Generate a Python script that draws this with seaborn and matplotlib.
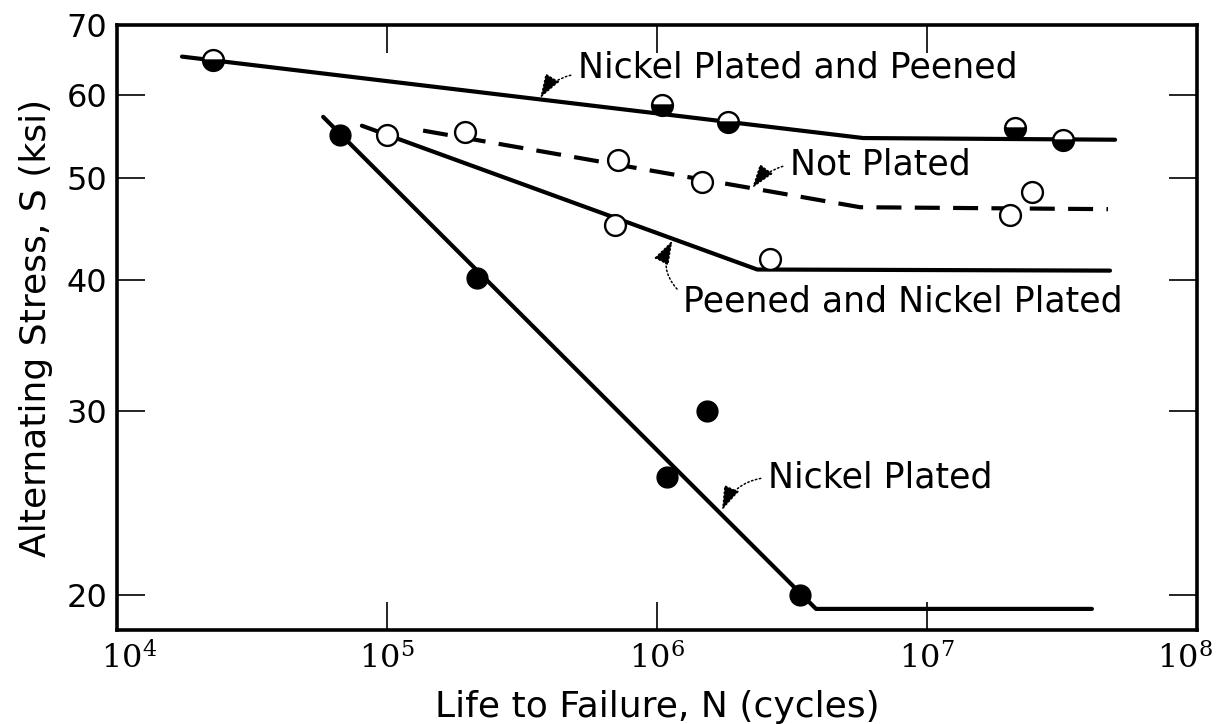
import numpy as np
import pandas as pd
import matplotlib
matplotlib.use("Agg")
import matplotlib.pyplot as plt
import matplotlib.transforms as mtransforms
import seaborn as sns

# ---- data ----
# Nickel Plated and Peened (half-filled markers)
npp_N = [2.27e4, 1.04e6, 1.83e6, 2.12e7, 3.19e7]
npp_S = [64.8, 58.7, 56.6, 55.8, 54.4]
npp_line_N = [1.74e4, 5.8e6, 4.97e7]
npp_line_S = [65.3, 54.6, 54.4]

# Not Plated (open circles, dashed)
np_N = [1.94e5, 7.17e5, 1.47e6, 2.03e7, 2.45e7]
np_S = [55.3, 52.0, 49.6, 46.1, 48.5]
np_line_N = [1.36e5, 5.65e6, 4.68e7]
np_line_S = [55.5, 46.9, 46.7]

# Peened and Nickel Plated (open circles, solid)
pnp_N = [1.0e5, 6.98e5, 2.62e6]
pnp_S = [55.0, 45.1, 41.9]
pnp_line_N = [8.07e4, 2.35e6, 4.76e7]
pnp_line_S = [56.1, 40.9, 40.8]

# Nickel Plated (filled circles)
ni_N = [6.70e4, 2.15e5, 1.09e6, 1.53e6, 3.39e6]
ni_S = [55.0, 40.1, 25.9, 30.0, 20.0]
ni_line_N = [5.8e4, 3.88e6, 4.08e7]
ni_line_S = [57.2, 19.4, 19.4]

x_ticks = [1e4, 1e5, 1e6, 1e7, 1e8]
x_ticklabels = [r"$10^{4}$", r"$10^{5}$", r"$10^{6}$", r"$10^{7}$", r"$10^{8}$"]
y_ticks = [20, 30, 40, 50, 60, 70]
y_ticklabels = ["20", "30", "40", "50", "60", "70"]

sns.set_style("ticks")
plt.rcParams["font.family"] = ["DejaVu Sans"]
plt.rcParams["mathtext.fontset"] = "dejavuserif"
plt.rcParams["text.color"] = "black"
plt.rcParams["axes.labelcolor"] = "black"

fig = plt.figure(figsize=(12.18, 7.24), dpi=100)
ax = fig.add_axes([0.0961, 0.1298, 0.8867, 0.8357])

lw = 3.0
# lines
for N, S, ls in [(npp_line_N, npp_line_S, "-"),
                 (np_line_N, np_line_S, (0, (6, 3.2))),
                 (pnp_line_N, pnp_line_S, "-"),
                 (ni_line_N, ni_line_S, "-")]:
    df = pd.DataFrame({"N": N, "S": S})
    sns.lineplot(data=df, x="N", y="S", ax=ax, color="black", lw=lw,
                 linestyle=ls, sort=False, estimator=None)

ms = 15
# open circles
sns.scatterplot(x=np_N + pnp_N, y=np_S + pnp_S, ax=ax, marker="o",
                s=ms ** 2, facecolor="white", edgecolor="black",
                linewidth=1.7, zorder=5)
# filled circles
sns.scatterplot(x=ni_N, y=ni_S, ax=ax, marker="o", s=ms ** 2,
                color="black", edgecolor="black", linewidth=1.0, zorder=5)
# half-filled circles
ax.plot(npp_N, npp_S, linestyle="none", marker="o", markersize=ms,
        fillstyle="bottom", markerfacecolor="black",
        markerfacecoloralt="white", markeredgecolor="black",
        markeredgewidth=1.7, zorder=6)

ax.set_xscale("log")
ax.set_yscale("log")
ax.set_xlim(1e4, 1e8)
ax.set_ylim(18.52, 70)
ax.set_xticks(x_ticks)
ax.set_xticklabels(x_ticklabels)
ax.set_yticks(y_ticks)
ax.set_yticklabels(y_ticklabels)
ax.minorticks_off()
ax.tick_params(which="major", direction="in", length=20, width=1.2,
               top=True, right=True, labelsize=23, colors="black")
ax.tick_params(axis="x", pad=9)
ax.tick_params(axis="y", pad=7)
for sp in ax.spines.values():
    sp.set_linewidth(2.6)
    sp.set_color("black")

# nudge the end labels inward as in the reference
xlabels = ax.get_xticklabels()
xlabels[0].set_transform(xlabels[0].get_transform() +
                         mtransforms.ScaledTranslation(12 / 100, 0, fig.dpi_scale_trans))
xlabels[-1].set_transform(xlabels[-1].get_transform() +
                          mtransforms.ScaledTranslation(-12 / 100, 0, fig.dpi_scale_trans))

ax.set_xlabel("Life to Failure, N (cycles)", fontsize=26, labelpad=10)
ax.set_ylabel("Alternating Stress, S (ksi)", fontsize=26, labelpad=10)

fs = 25
arrow = dict(arrowstyle="-|>,head_length=0.6,head_width=0.2", color="black",
             lw=1.1, linestyle=":", shrinkA=3, shrinkB=0)
ax.annotate("Nickel Plated and Peened", xy=(3.69e5, 59.6), xytext=(5.1e5, 63.8),
            fontsize=fs, ha="left", va="center",
            arrowprops=dict(arrow, connectionstyle="arc3,rad=0.25", relpos=(0, 0.3)))
ax.annotate("Not Plated", xy=(2.25e6, 48.9), xytext=(3.11e6, 51.5),
            fontsize=fs, ha="left", va="center",
            arrowprops=dict(arrow, connectionstyle="arc3,rad=0.2", relpos=(0, 0.5)))
ax.annotate("Peened and Nickel Plated", xy=(1.14e6, 43.6), xytext=(1.25e6, 38.1),
            fontsize=fs, ha="left", va="center",
            arrowprops=dict(arrow, connectionstyle="arc3,rad=-0.4", relpos=(0, 0.7)))
ax.annotate("Nickel Plated", xy=(1.74e6, 24.1), xytext=(2.58e6, 25.9),
            fontsize=fs, ha="left", va="center",
            arrowprops=dict(arrow, connectionstyle="arc3,rad=0.3", relpos=(0, 0.5)))

fig.savefig("out.png", dpi=100)
